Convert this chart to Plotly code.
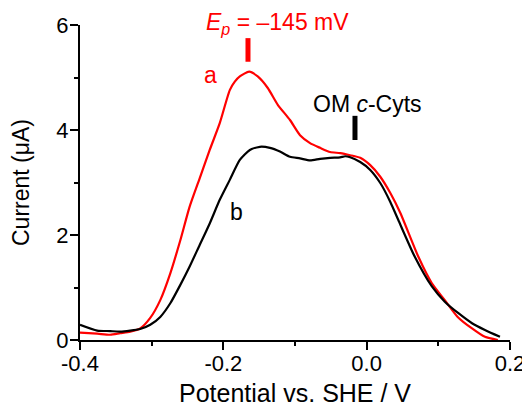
import plotly.graph_objects as go

# Curve a (red)
xa = [-0.400, -0.376, -0.358, -0.344, -0.330, -0.316, -0.302, -0.288, -0.274, -0.260,
      -0.247, -0.233, -0.219, -0.205, -0.191, -0.184, -0.177, -0.164, -0.152, -0.138,
      -0.124, -0.107, -0.093, -0.079, -0.065, -0.051, -0.037, -0.023, -0.009, 0.005,
      0.019, 0.033, 0.047, 0.072, 0.091, 0.109, 0.127, 0.147, 0.165, 0.183]
ya = [0.14, 0.12, 0.10, 0.13, 0.16, 0.22, 0.42, 0.76, 1.27, 1.90,
      2.54, 3.08, 3.62, 4.13, 4.76, 4.92, 5.02, 5.11, 5.02, 4.80,
      4.48, 4.19, 3.90, 3.75, 3.66, 3.58, 3.56, 3.52, 3.47, 3.33,
      3.11, 2.80, 2.42, 1.59, 1.08, 0.76, 0.44, 0.22, 0.06, 0.00]

# Curve b (black)
xb = [-0.400, -0.376, -0.358, -0.344, -0.316, -0.302, -0.288, -0.274, -0.260, -0.247,
      -0.233, -0.219, -0.205, -0.191, -0.177, -0.163, -0.149, -0.135, -0.121, -0.107,
      -0.093, -0.079, -0.065, -0.051, -0.037, -0.030, -0.023, -0.009, 0.005, 0.019,
      0.033, 0.044, 0.067, 0.091, 0.109, 0.128, 0.147, 0.165, 0.186]
yb = [0.29, 0.18, 0.17, 0.16, 0.21, 0.29, 0.44, 0.70, 1.05, 1.40,
      1.81, 2.22, 2.67, 3.05, 3.43, 3.62, 3.68, 3.66, 3.59, 3.49,
      3.46, 3.42, 3.45, 3.47, 3.48, 3.50, 3.48, 3.39, 3.24, 2.99,
      2.63, 2.29, 1.59, 1.02, 0.73, 0.51, 0.32, 0.19, 0.06]

x_ticks = [-0.4, -0.2, 0.0, 0.2]
x_ticklabels = ["-0.4", "-0.2", "0.0", "0.2"]
y_ticks = [0, 2, 4, 6]
x_title = "Potential vs. SHE / V"
y_title = "Current (μA)"

FONT = "Liberation Sans, Arial, sans-serif"
TICK_SIZE = 22
TITLE_SIZE = 25
ANN_SIZE = 23

fig = go.Figure()
fig.add_trace(go.Scatter(x=xa, y=ya, mode="lines", line=dict(color="#ff0000", width=2.2, shape="spline", smoothing=0.6), showlegend=False))
fig.add_trace(go.Scatter(x=xb, y=yb, mode="lines", line=dict(color="#000000", width=2.2, shape="spline", smoothing=0.6), showlegend=False))

axis_common = dict(
    showline=True, linecolor="black", linewidth=2, mirror=False,
    ticks="outside", ticklen=8, tickwidth=2, tickcolor="black",
    showgrid=False, zeroline=False, automargin=False,
    tickfont=dict(family=FONT, size=TICK_SIZE, color="black"),
)

fig.update_xaxes(range=[-0.4, 0.2], tickvals=x_ticks, ticktext=x_ticklabels, ticklabelstandoff=-5,
                 minor=dict(ticks="outside", ticklen=4, tickwidth=2, tickcolor="black", dtick=0.1, tick0=-0.4),
                 **axis_common)
fig.update_yaxes(range=[0, 6], tickvals=y_ticks, ticklabelstandoff=-3,
                 minor=dict(ticks="outside", ticklen=4, tickwidth=2, tickcolor="black", dtick=1, tick0=0),
                 title=dict(text=y_title, font=dict(family=FONT, size=23, color="black"), standoff=21),
                 **axis_common)

# x-axis title placed as a paper annotation for precise vertical position
fig.add_annotation(x=0.5, xref="paper", y=-0.168, yref="paper", yanchor="middle",
                   text=x_title, showarrow=False, borderpad=0,
                   font=dict(family=FONT, size=TITLE_SIZE, color="black"))

fig.add_shape(type="line", x0=-0.1656, x1=-0.1656, y0=5.30, y1=5.75, line=dict(color="#ff0000", width=5))
fig.add_shape(type="line", x0=-0.0163, x1=-0.0163, y0=3.81, y1=4.27, line=dict(color="black", width=5))

fig.add_annotation(x=-0.124, xref="x", y=1.005, yref="paper", yanchor="middle",
                   text="<i>E</i><sub><i>p</i></sub> = \u2013145 mV", showarrow=False,
                   font=dict(family=FONT, size=ANN_SIZE, color="#ff0000"))
fig.add_annotation(x=-0.2186, y=5.05, text="a", showarrow=False, font=dict(family=FONT, size=ANN_SIZE, color="#ff0000"))
fig.add_annotation(x=0.0017, y=4.5, text="OM <i>c</i>-Cyts", showarrow=False, font=dict(family=FONT, size=ANN_SIZE, color="black"))
fig.add_annotation(x=-0.181, y=2.44, text="b", showarrow=False, font=dict(family=FONT, size=ANN_SIZE, color="black"))

# page body has an 8px default margin, so the figure is sized to fit the window after that offset
fig.update_layout(width=522, height=399, margin=dict(l=72, r=20, t=17, b=67),
                  plot_bgcolor="white", paper_bgcolor="white",
                  font=dict(family=FONT, color="black"))

fig.write_html("out.html")
